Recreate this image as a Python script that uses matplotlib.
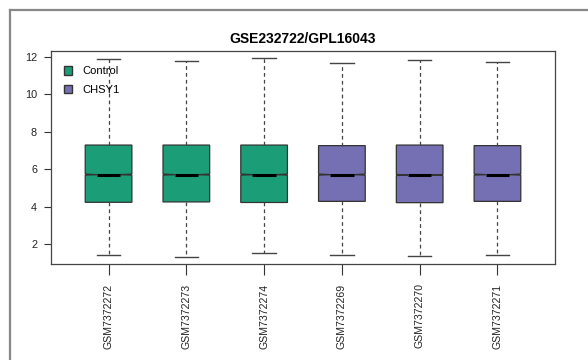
import matplotlib.pyplot as plt
from matplotlib.patches import Patch
from matplotlib.lines import Line2D

plt.rcParams['font.family'] = ['Liberation Sans', 'DejaVu Sans']

# sample names and groups
samples = ['GSM7372272', 'GSM7372273', 'GSM7372274',
           'GSM7372269', 'GSM7372270', 'GSM7372271']
groups = ['Control', 'Control', 'Control', 'CHSY1', 'CHSY1', 'CHSY1']

# box statistics per sample (expression values)
medians = [5.71, 5.71, 5.71, 5.71, 5.69, 5.71]
q1s = [4.23, 4.25, 4.22, 4.28, 4.21, 4.28]
q3s = [7.29, 7.29, 7.29, 7.26, 7.29, 7.26]
whis_lo = [1.40, 1.32, 1.50, 1.41, 1.36, 1.41]
whis_hi = [11.88, 11.79, 11.93, 11.70, 11.84, 11.72]

group_colors = {'Control': '#1B9E77', 'CHSY1': '#7570B3'}

fig = plt.figure(figsize=(5.88, 3.6), dpi=100)
ax = fig.add_axes([51 / 588, 1 - 264 / 360, 504 / 588, 213 / 360])

stats = []
for i in range(len(samples)):
    stats.append({
        'label': samples[i],
        'med': medians[i],
        'q1': q1s[i],
        'q3': q3s[i],
        'whislo': whis_lo[i],
        'whishi': whis_hi[i],
        'cilo': medians[i] - 0.03,
        'cihi': medians[i] + 0.03,
        'fliers': [],
    })

pos = list(range(1, len(samples) + 1))
bp = ax.bxp(stats, positions=pos, widths=0.6, shownotches=True,
            patch_artist=True, showfliers=False,
            boxprops=dict(edgecolor='#333333', linewidth=0.9),
            medianprops=dict(color='black', linewidth=2.2, solid_capstyle='butt'),
            whiskerprops=dict(color='#444444', linewidth=0.9, linestyle=(0, (3, 2.5))),
            capprops=dict(color='#444444', linewidth=1.0))
for patch, g in zip(bp['boxes'], groups):
    patch.set_facecolor(group_colors[g])

ax.set_xlim(0.26, 6.74)
ax.set_ylim(0.93, 12.32)
ax.set_yticks([2, 4, 6, 8, 10, 12])
ax.set_xticks(pos)
ax.set_xticklabels(samples, rotation=90, fontsize=7.6, color='#222222')
ax.tick_params(axis='y', labelsize=7.8, length=5, width=0.8, colors='#333333',
               labelcolor='#222222', pad=5)
ax.tick_params(axis='x', length=8, width=0.8, colors='#333333', labelcolor='#222222', pad=6)
for sp in ax.spines.values():
    sp.set_color('#444444')
    sp.set_linewidth(0.9)

ax.set_title('GSE232722/GPL16043', fontsize=10, fontweight='bold', pad=6)

handles = [Patch(facecolor=group_colors['Control'], edgecolor='#333333', label='Control'),
           Patch(facecolor=group_colors['CHSY1'], edgecolor='#333333', label='CHSY1')]
ax.legend(handles=handles, loc='upper left', bbox_to_anchor=(0.005, 0.975),
          frameon=False, fontsize=8, handlelength=0.8, handleheight=0.8,
          handletextpad=0.9, labelspacing=0.75)

# outer gray frame
fig.add_artist(Line2D([10 / 588, 10 / 588], [0, 1 - 10 / 360], transform=fig.transFigure,
                      color='#888888', linewidth=1.6))
fig.add_artist(Line2D([10 / 588, 1], [1 - 10 / 360, 1 - 10 / 360], transform=fig.transFigure,
                      color='#888888', linewidth=1.6))

fig.savefig('out.png', dpi=100)
